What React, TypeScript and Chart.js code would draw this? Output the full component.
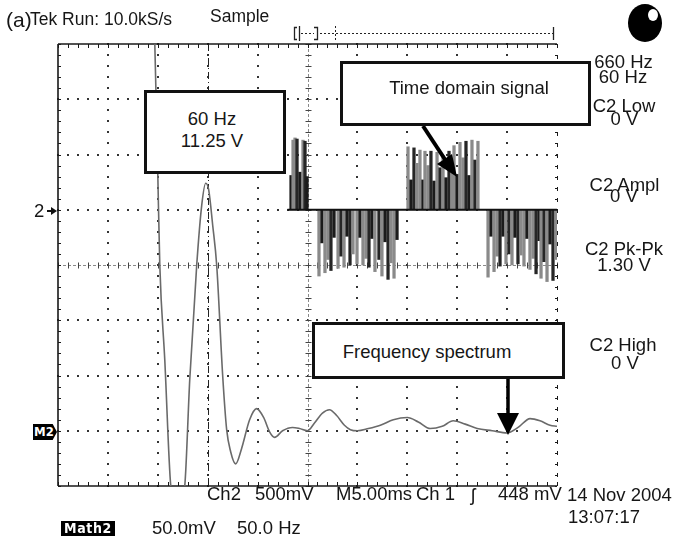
import React, { useEffect, useRef } from 'react';
import { Chart, registerables } from 'chart.js';

Chart.register(...registerables);

// ---- Math2 (FFT) trace: frequency in Hz, magnitude in mV (50 mV/div, 50 Hz/div)
const spectrumHz = [96, 97, 100, 102, 107, 113, 120, 127, 132, 139, 144, 148, 151, 155, 159, 165, 169, 173, 178, 184, 192, 199, 206, 212, 217, 225, 235, 242, 250, 257, 265, 272, 279, 287, 293, 300, 311, 323, 336, 350, 361, 373, 385, 396, 408, 420, 435, 450, 461, 473, 483, 493, 500];
const spectrumMv = [362, 350, 232, 150, 64, -50, -72, -50, 46, 150, 204, 224, 218, 186, 150, 50, 1, -19, -30, -16, 10, 20, 12, -1, -6, 0, 3, 2, 0, 7, 16, 19, 14, 5, 1, 0, 2, 5, 10, 12, 8, 2, 4, 9, 6, 2, 0, -2, 3, 11, 9, 5, 4];

// ---- Ch2 time-domain PWM pulses: time in ms (5 ms/div), level in V (500 mV/div)
const pulseTimesA = [23.35, 23.55, 23.75, 23.95, 24.25, 24.55, 24.75, 24.95];
const pulseLevelsA = [0.31, 0.63, 0.65, 0.64, 0.34, 0.63, 0.62, 0.3];
const pulseTimesB = [26.15, 26.45, 26.75, 27.05, 27.35, 27.66, 28.06, 28.36, 28.66, 28.96, 29.26, 29.56, 29.96, 30.26, 30.56, 30.86, 31.16, 31.46, 31.76, 32.16, 32.46, 32.77, 33.07, 33.37, 33.67, 33.97];
const pulseLevelsB = [-0.6, -0.3, -0.57, -0.45, -0.55, -0.25, -0.53, -0.42, -0.52, -0.24, -0.5, -0.4, -0.49, -0.25, -0.5, -0.44, -0.52, -0.26, -0.56, -0.45, -0.6, -0.29, -0.63, -0.48, -0.62, -0.27];
const pulseTimesC = [35.07, 35.37, 35.67, 35.97, 36.27, 36.57, 36.77, 37.07, 37.37, 37.68, 37.98, 38.28, 38.58, 38.88, 39.18, 39.48, 39.68, 39.98, 40.28, 40.58, 40.88, 41.18, 41.48, 41.78, 42.08];
const pulseLevelsC = [0.57, 0.27, 0.56, 0.42, 0.54, 0.27, 0.53, 0.4, 0.53, 0.26, 0.52, 0.38, 0.49, 0.29, 0.53, 0.45, 0.58, 0.32, 0.61, 0.47, 0.62, 0.31, 0.63, 0.45, 0.62];
const pulseTimesD = [43.09, 43.39, 43.69, 43.99, 44.29, 44.59, 44.89, 45.19, 45.49, 45.79, 46.09, 46.39, 46.69, 46.99, 47.29, 47.6, 47.9, 48.2, 48.4, 48.7, 49.0, 49.3, 49.6, 49.9];
const pulseLevelsD = [-0.61, -0.24, -0.56, -0.42, -0.51, -0.24, -0.49, -0.4, -0.5, -0.25, -0.49, -0.41, -0.51, -0.26, -0.54, -0.44, -0.58, -0.28, -0.62, -0.47, -0.65, -0.31, -0.64, -0.45];

// Ch2 zero-level trace
const ch2BaselineMs = [23.0, 50.0];
const ch2BaselineV = [0, 0];

const FONT = '"Liberation Sans", Arial, Helvetica, sans-serif';
const INK = '#161616';

const scopeGrid = {
  id: 'scopeGrid',
  beforeDatasetsDraw(chart: any) {
    const { ctx } = chart;
    const xs = chart.scales.xg;
    const ys = chart.scales.yg;
    const X = (v: number) => xs.getPixelForValue(v);
    const Y = (v: number) => ys.getPixelForValue(v);
    const L = X(0), R = X(10), T = Y(4), B = Y(-4);
    ctx.save();
    ctx.fillStyle = '#333';
    for (let i = 1; i < 10; i++) {
      if (i === 5) continue;
      const x = Math.round(X(i));
      for (let k = -20; k <= 20; k++) {
        const y = Math.round(Y(k * 0.2));
        ctx.fillRect(x - 1, y - 1, 2, 2);
      }
    }
    for (let j = -3; j <= 3; j++) {
      if (j === 0) continue;
      const y = Math.round(Y(j));
      for (let k = 0; k <= 50; k++) {
        const x = Math.round(X(k * 0.2));
        ctx.fillRect(x - 1, y - 1, 2, 2);
      }
    }
    ctx.strokeStyle = '#8a8a8a';
    ctx.lineWidth = 1;
    ctx.setLineDash([3, 2]);
    const cy = Math.round(Y(0)) + 0.5;
    const cx = Math.round(X(5)) + 0.5;
    ctx.beginPath();
    ctx.moveTo(L, cy); ctx.lineTo(R, cy);
    ctx.moveTo(cx, T); ctx.lineTo(cx, B);
    ctx.stroke();
    ctx.setLineDash([]);
    ctx.strokeStyle = '#444';
    ctx.beginPath();
    for (let k = 0; k <= 50; k++) {
      const x = Math.round(X(k * 0.2)) + 0.5;
      ctx.moveTo(x, cy - 3); ctx.lineTo(x, cy + 3);
    }
    for (let k = -20; k <= 20; k++) {
      const y = Math.round(Y(k * 0.2)) + 0.5;
      ctx.moveTo(cx - 3, y); ctx.lineTo(cx + 3, y);
    }
    ctx.stroke();
    ctx.strokeStyle = '#222';
    ctx.setLineDash([7, 3, 1, 3]);
    const ux = Math.round(X(3)) + 0.5;
    ctx.beginPath(); ctx.moveTo(ux, T); ctx.lineTo(ux, B); ctx.stroke();
    ctx.setLineDash([]);
    ctx.strokeStyle = '#1a1a1a';
    ctx.lineWidth = 1.6;
    ctx.beginPath();
    ctx.moveTo(L, T); ctx.lineTo(R, T);
    ctx.moveTo(L, B); ctx.lineTo(R, B);
    ctx.moveTo(L, T); ctx.lineTo(L, B);
    ctx.stroke();
    ctx.lineWidth = 1;
    ctx.beginPath();
    for (let k = 0; k <= 50; k++) {
      const x = Math.round(X(k * 0.2)) + 0.5;
      ctx.moveTo(x, T); ctx.lineTo(x, T + 4);
      ctx.moveTo(x, B); ctx.lineTo(x, B - 4);
    }
    for (let k = -20; k <= 20; k++) {
      const y = Math.round(Y(k * 0.2)) + 0.5;
      ctx.moveTo(L, y); ctx.lineTo(L + 3, y);
      ctx.moveTo(R, y); ctx.lineTo(R - 2, y);
    }
    ctx.stroke();
    ctx.setLineDash([4, 7]);
    ctx.beginPath(); ctx.moveTo(R + 0.5, T); ctx.lineTo(R + 0.5, B); ctx.stroke();
    ctx.setLineDash([]);
    ctx.restore();
  },
};

const scopeMarks = {
  id: 'scopeMarks',
  afterDraw(chart: any) {
    const { ctx } = chart;
    ctx.save();
    ctx.fillStyle = '#000';
    ctx.beginPath(); ctx.ellipse(645, 23, 17, 19, 0, 0, Math.PI * 2); ctx.fill();
    ctx.fillStyle = '#fff';
    ctx.beginPath(); ctx.ellipse(653, 15, 5, 6, 0, 0, Math.PI * 2); ctx.fill();
    ctx.strokeStyle = '#222';
    ctx.lineWidth = 1.3;
    ctx.beginPath();
    ctx.moveTo(297, 27.5); ctx.lineTo(294.5, 27.5); ctx.lineTo(294.5, 39.5); ctx.lineTo(297, 39.5);
    ctx.moveTo(299.5, 26); ctx.lineTo(299.5, 41);
    ctx.moveTo(314, 27.5); ctx.lineTo(317.5, 27.5); ctx.lineTo(317.5, 39.5); ctx.lineTo(314, 39.5);
    ctx.moveTo(553.5, 27); ctx.lineTo(553.5, 40);
    ctx.stroke();
    ctx.setLineDash([2, 2]);
    ctx.lineWidth = 1;
    ctx.beginPath();
    ctx.moveTo(301, 33.5); ctx.lineTo(314, 33.5);
    ctx.moveTo(320, 33.5); ctx.lineTo(553, 33.5);
    ctx.moveTo(335.5, 26); ctx.lineTo(335.5, 41);
    ctx.stroke();
    ctx.setLineDash([]);
    ctx.fillStyle = '#111';
    ctx.fillRect(47, 210, 5, 2);
    ctx.beginPath(); ctx.moveTo(51, 207); ctx.lineTo(57, 211); ctx.lineTo(51, 215); ctx.closePath(); ctx.fill();
    ctx.strokeStyle = '#000';
    ctx.lineWidth = 4;
    ctx.beginPath(); ctx.moveTo(423, 126); ctx.lineTo(446, 161); ctx.stroke();
    ctx.fillStyle = '#000';
    ctx.beginPath(); ctx.moveTo(457, 177); ctx.lineTo(437, 164); ctx.lineTo(452, 154); ctx.closePath(); ctx.fill();
    ctx.lineWidth = 3.5;
    ctx.beginPath(); ctx.moveTo(508, 378); ctx.lineTo(508, 416); ctx.stroke();
    ctx.beginPath(); ctx.moveTo(497, 413); ctx.lineTo(519, 413); ctx.lineTo(508, 435); ctx.closePath(); ctx.fill();
    ctx.restore();
  },
};

type Lab = { t: string; x: number; y: number; s?: number; c?: boolean };
const labels: Lab[] = [
  { t: '(a)', x: 6, y: 19, s: 21 },
  { t: 'Tek Run: 10.0kS/s', x: 30, y: 20, s: 17.5 },
  { t: 'Sample', x: 210, y: 17, s: 17.5 },
  { t: '660 Hz', x: 623.5, y: 61.5, c: true },
  { t: '60 Hz', x: 623, y: 76.5, c: true },
  { t: 'C2 Low', x: 624, y: 106, c: true },
  { t: '0 V', x: 624.5, y: 118.5, c: true },
  { t: 'C2 Ampl', x: 624.5, y: 184.5, c: true },
  { t: '0 V', x: 624, y: 196, c: true },
  { t: 'C2 Pk-Pk', x: 624, y: 248.5, c: true },
  { t: '1.30 V', x: 624, y: 265, c: true },
  { t: 'C2 High', x: 623, y: 345, c: true },
  { t: '0 V', x: 625, y: 363, c: true },
  { t: '2', x: 34, y: 210.5 },
  { t: '60 Hz', x: 212, y: 118.5, c: true },
  { t: '11.25 V', x: 212, y: 141, c: true },
  { t: 'Time domain signal', x: 469, y: 88, c: true },
  { t: 'Frequency spectrum', x: 427, y: 352, c: true },
  { t: 'Ch2', x: 207, y: 494 },
  { t: '500mV', x: 255, y: 494 },
  { t: 'M5.00ms', x: 336, y: 494 },
  { t: 'Ch 1', x: 416, y: 494 },
  { t: 'ʃ', x: 471, y: 495 },
  { t: '448 mV', x: 498, y: 494 },
  { t: '14 Nov 2004', x: 567, y: 495 },
  { t: '13:07:17', x: 568, y: 517 },
  { t: '50.0mV', x: 152, y: 528 },
  { t: '50.0 Hz', x: 237, y: 528 },
];

const boxes = [
  { x: 144, y: 90, w: 142, h: 84 },
  { x: 340, y: 61, w: 251, h: 65 },
  { x: 312, y: 322, w: 253, h: 57 },
];

export default function App() {
  const ref = useRef<HTMLCanvasElement | null>(null);

  useEffect(() => {
    const canvas = ref.current;
    if (!canvas) return;
    const pulseT = [...pulseTimesA, ...pulseTimesB, ...pulseTimesC, ...pulseTimesD];
    const pulseV = [...pulseLevelsA, ...pulseLevelsB, ...pulseLevelsC, ...pulseLevelsD];
    const chart = new Chart(canvas, {
      type: 'line',
      data: {
        datasets: [
          {
            type: 'line',
            label: 'Math2 spectrum',
            data: spectrumHz.map((f, i) => ({ x: f, y: spectrumMv[i] })),
            xAxisID: 'xf',
            yAxisID: 'ym',
            borderColor: '#6a6a6a',
            borderWidth: 1.6,
            pointRadius: 0,
            fill: false,
            cubicInterpolationMode: 'monotone',
          } as any,
          {
            type: 'line',
            label: 'Ch2 level',
            data: ch2BaselineMs.map((t, i) => ({ x: t, y: ch2BaselineV[i] })),
            xAxisID: 'xt',
            yAxisID: 'yc',
            borderColor: '#111',
            borderWidth: 1.8,
            pointRadius: 0,
            fill: false,
          } as any,
          {
            type: 'bar',
            label: 'Ch2 pulses',
            data: pulseT.map((t, i) => ({ x: t, y: [0, pulseV[i]] })),
            xAxisID: 'xt',
            yAxisID: 'yc',
            barThickness: 2.6,
            grouped: false,
            borderWidth: 0,
            backgroundColor: (c: any) => {
              const v = pulseV[c.dataIndex] ?? 0;
              if (Math.abs(v) < 0.35) return '#1b1b1b';
              return c.dataIndex % 3 === 0 ? '#262626' : '#8a8a8a';
            },
          } as any,
        ],
      },
      options: {
        responsive: false,
        devicePixelRatio: 1,
        animation: false,
        events: [],
        layout: { padding: { left: 58, top: 44, right: 126, bottom: 52 } },
        plugins: { legend: { display: false }, tooltip: { enabled: false }, title: { display: false } },
        scales: {
          xg: { type: 'linear', axis: 'x', min: 0, max: 10, display: false, offset: false },
          yg: { type: 'linear', axis: 'y', min: -4, max: 4, display: false },
          xt: { type: 'linear', axis: 'x', min: 0, max: 50, display: false, offset: false },
          xf: { type: 'linear', axis: 'x', min: 0, max: 500, display: false, offset: false },
          yc: { type: 'linear', axis: 'y', min: -2.5, max: 1.5, display: false },
          ym: { type: 'linear', axis: 'y', min: -50, max: 350, display: false },
        },
      } as any,
      plugins: [scopeGrid, scopeMarks],
    });
    return () => chart.destroy();
  }, []);

  return (
    <div style={{ position: 'fixed', left: 0, top: 0, width: 683, height: 538, background: '#fff', overflow: 'hidden' }}>
      <canvas ref={ref} width={683} height={538} style={{ position: 'absolute', left: 0, top: 0, width: 683, height: 538 }} />
      {boxes.map((b, i) => (
        <div key={'b' + i} style={{ position: 'absolute', left: b.x, top: b.y, width: b.w, height: b.h, boxSizing: 'border-box', border: '3px solid #111', background: '#fff' }} />
      ))}
      <div style={{ position: 'absolute', left: 33, top: 424, width: 24, height: 16, background: '#000', color: '#fff', clipPath: 'polygon(0 0, 82% 0, 100% 50%, 82% 100%, 0 100%)', fontFamily: '"DejaVu Sans Condensed", "DejaVu Sans", sans-serif', fontWeight: 700, fontSize: 13, lineHeight: '16px', paddingLeft: 1, boxSizing: 'border-box' }}>M2</div>
      <div style={{ position: 'absolute', left: 61, top: 521, width: 54, height: 15, background: '#000', color: '#fff', fontFamily: '"DejaVu Sans Condensed", "DejaVu Sans", sans-serif', fontWeight: 700, fontSize: 14, lineHeight: '15px', textAlign: 'center', letterSpacing: 0.6 }}>Math2</div>
      {labels.map((l, i) => (
        <span
          key={'l' + i}
          style={{
            position: 'absolute',
            left: l.x,
            top: l.y,
            transform: l.c ? 'translate(-50%, -50%)' : 'translateY(-50%)',
            fontFamily: FONT,
            fontSize: l.s ?? 18.5,
            lineHeight: 1,
            whiteSpace: 'nowrap',
            color: INK,
          }}
        >
          {l.t}
        </span>
      ))}
    </div>
  );
}
